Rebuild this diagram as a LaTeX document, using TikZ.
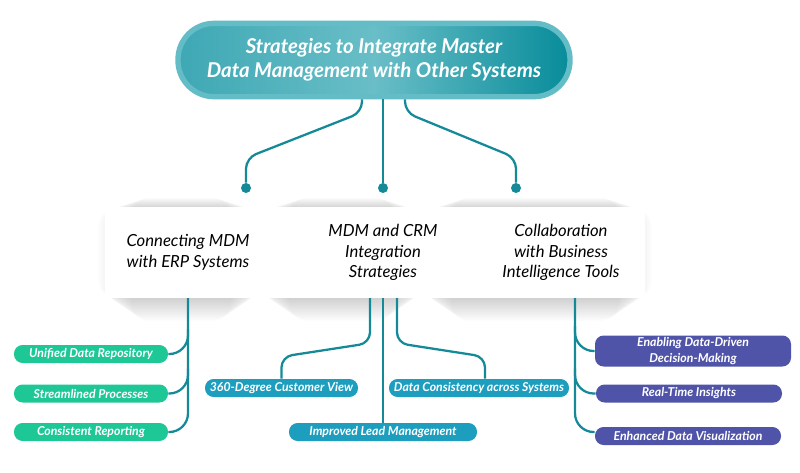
\documentclass[tikz,border=0pt]{standalone}
\usepackage{fontspec}
\setmainfont{Lato}
\usetikzlibrary{calc}
\definecolor{linkteal}{RGB}{20,138,153}
\definecolor{ringteal}{RGB}{100,188,198}
\definecolor{titleleft}{RGB}{62,168,180}
\definecolor{titlemid}{RGB}{105,190,199}
\definecolor{titleright}{RGB}{8,140,154}
\definecolor{pillgreen}{RGB}{30,199,150}
\definecolor{pillblue}{RGB}{30,158,190}
\definecolor{pillpurple}{RGB}{80,84,168}
\begin{document}
\begin{tikzpicture}[x=0.75pt,y=-0.75pt,
	link/.style={draw=linkteal,line width=1.7pt,rounded corners=8pt},
	dot/.style={circle,fill=linkteal,minimum size=7.5pt,inner sep=0},
	topic/.style={minimum width=135pt,minimum height=68pt,align=center,
		font=\fontsize{12.5}{15.5}\selectfont\itshape},
	pill/.style={rounded corners=6.5pt,text=white,align=center,inner sep=1pt,
		minimum height=13.5pt,font=\fontsize{9.2}{11.5}\selectfont\bfseries\itshape}]
\useasboundingbox (0,0) rectangle (800,472);
% title
\node (title) at (374,60) [rounded corners=27pt,draw=ringteal,line width=4pt,
	left color=titleleft,right color=titleright,middle color=titlemid,
	minimum width=294pt,minimum height=55pt,text=white,align=center,
	font=\fontsize{15.3}{18}\selectfont\bfseries\itshape]
	{Strategies to Integrate Master\\Data Management with Other Systems};
\node[dot] (dA) at (246,188) {};
\node[dot] (dB) at (383,188) {};
\node[dot] (dC) at (516,188) {};
\draw[link] ($(title.south)+(-12,0)$) -- ++(0,13) -- ($(dA)+(0,-30)$) -- (dA);
\draw[link] (title.south -| dB) -- (dB);
\draw[link] ($(title.south)+(31,0)$) -- ++(0,13) -- ($(dC)+(0,-30)$) -- (dC);
% band with soft shadows, one per topic
\foreach \l/\r in {96/266,254/429,416/654}
	\foreach \s in {1,2,...,16}
		\fill[black,opacity=.011,rounded corners=14pt] (\l+2.2*\s,209-0.7*\s) rectangle (\r-2.2*\s,297+1.5*\s);
\fill[white] (105,207) rectangle (645,298);
\node[topic] (boxA) at (188,252.5) {Connecting MDM\\with ERP Systems};
\node[topic] (boxB) at (383,252.5) {MDM and CRM\\Integration\\Strategies};
\node[topic] (boxC) at (561,252.5) {Collaboration\\with Business\\Intelligence Tools};
% ERP
\node[pill,fill=pillgreen,minimum width=115.5pt] (ud) at (91,354) {Unified Data Repository};
\node[pill,fill=pillgreen,minimum width=115.5pt] (sp) at (91,393.5) {Streamlined Processes};
\node[pill,fill=pillgreen,minimum width=115.5pt] (cr) at (91,432) {Consistent Reporting};
\draw[link,rounded corners=14pt] (boxA.south) |- (cr.east);
\draw[link,rounded corners=14pt] ($(ud.east -| boxA.south)+(0,-25)$) |- (ud.east);
\draw[link,rounded corners=14pt] ($(sp.east -| boxA.south)+(0,-25)$) |- (sp.east);
% CRM
\node[pill,fill=pillblue,minimum width=114.75pt] (cv) at (281.5,388) {360-Degree Customer View};
\node[pill,fill=pillblue,minimum width=135pt] (dc) at (479,388) {Data Consistency across Systems};
\node[pill,fill=pillblue,minimum width=141pt] (il) at (383,432) {Improved Lead Management};
\draw[link] ($(boxB.south)+(-13,0)$) -- ++(0,45) -- ($(cv.north)+(0,-22)$) -- (cv.north);
\draw[link] (boxB.south) -- (boxB.south |- il.north);
\draw[link] ($(boxB.south)+(14,0)$) -- ++(0,45) -- ($(dc.north)+(6,-22)$) -- ($(dc.north)+(6,0)$);
% BI
\coordinate (vC) at ($(boxC.south)+(14,0)$);
\node[pill,fill=pillpurple,minimum width=147pt,minimum height=23.25pt] (dd) at (693,351) {Enabling Data-Driven\\Decision-Making};
\node[pill,fill=pillpurple,minimum width=139.5pt] (rt) at (689,393.5) {Real-Time Insights};
\node[pill,fill=pillpurple,minimum width=139.5pt] (ev) at (688,436) {Enhanced Data Visualization};
\draw[link,rounded corners=14pt] (vC) |- ($(ev.west)+(0,-4)$);
\draw[link,rounded corners=14pt] ($(dd.west -| vC)+(0,-25)$) |- (dd.west);
\draw[link,rounded corners=14pt] ($(rt.west -| vC)+(0,-25)$) |- (rt.west);
\end{tikzpicture}
\end{document}
